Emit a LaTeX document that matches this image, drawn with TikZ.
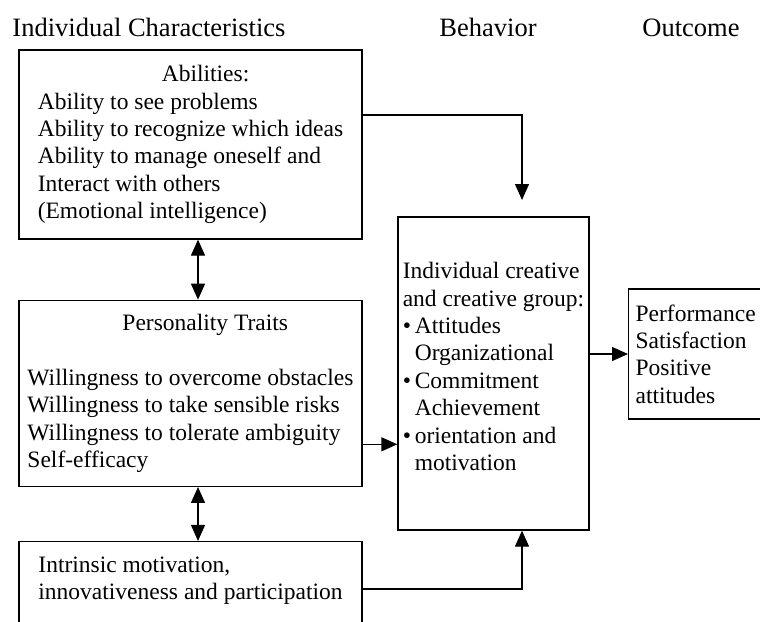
\documentclass[tikz,border=0pt]{standalone}
\usepackage{fontspec}
\setmainfont{Liberation Serif}
\usetikzlibrary{arrows.meta,positioning}
\newcommand{\bul}{\makebox[12pt][l]{\textbullet}}
\newcommand{\bulind}{\hspace*{12pt}}

\begin{document}
\begin{tikzpicture}[x=1pt, y=-1pt,
  block/.style={rectangle, draw=black, line width=1.3pt, inner sep=0pt, align=left,
                font={\fontsize{23.5pt}{27.4pt}\selectfont}},
  head/.style={anchor=base, font={\fontsize{26.5pt}{30pt}\selectfont}},
  arr/.style={-{Triangle[length=16pt,width=14pt]}, line width=1.3pt},
  dbl/.style={{Triangle[length=16pt,width=14pt]}-{Triangle[length=16pt,width=14pt]}, line width=1.3pt}
]
  \useasboundingbox (0,0) rectangle (760,621);
  \clip (0,0) rectangle (760,621);
  % column headings
  \node[head] (hchar) at (149,36) {Individual Characteristics};
  \node[head] (hbeh) at (488,36) {Behavior};
  \node[head] (hout) at (691,36) {Outcome};
  % left column
  \node[block, minimum width=343pt, minimum height=189pt] (abil) at (190.5,144.5)
    {\hspace*{124pt}Abilities:\\Ability to see problems\\Ability to recognize which ideas\\Ability to manage oneself and\\Interact with others\\(Emotional intelligence)};
  \node[block, minimum width=343pt, minimum height=186pt, below=60pt of abil] (pers)
    {\hspace*{95pt}Personality Traits\\[27.4pt]Willingness to overcome obstacles\\Willingness to take sensible risks\\Willingness to tolerate ambiguity\\Self-efficacy};
  \node[block, minimum width=343pt, inner ysep=15pt, text depth=90pt, below=54pt of pers] (intr)
    {Intrinsic motivation,\\innovativeness and participation};
  % behavior and outcome
  \node[block, minimum width=191pt, minimum height=313pt, text depth=14pt] (behav) at (493.5,373.5)
    {Individual creative\\and creative group:\\\bul Attitudes\\\bulind Organizational\\\bul Commitment\\\bulind Achievement\\\bul orientation and\\\bulind motivation};
  \node[block, anchor=west, minimum height=130pt, inner xsep=7pt, text width=150pt] (outc) at (628,354)
    {Performance\\Satisfaction\\Positive\\attitudes};
  \coordinate (abtip) at (522,200);
  % connectors
  \draw[arr] ([yshift=29.5pt]abil.east) -| (abtip);
  \draw[dbl] ([xshift=7.5pt]abil.south) -- ([xshift=7.5pt]pers.north);
  \draw[dbl] ([xshift=7.5pt]pers.south) -- ([xshift=7.5pt]intr.north);
  \draw[arr] ([yshift=-51pt]pers.east) -- ([yshift=-51pt]pers.east -| behav.west);
  \draw[arr] ([yshift=-48pt]intr.north east) -| (abtip |- behav.south);
  \draw[arr] (outc.west -| behav.east) -- (outc.west);
\end{tikzpicture}
\end{document}
